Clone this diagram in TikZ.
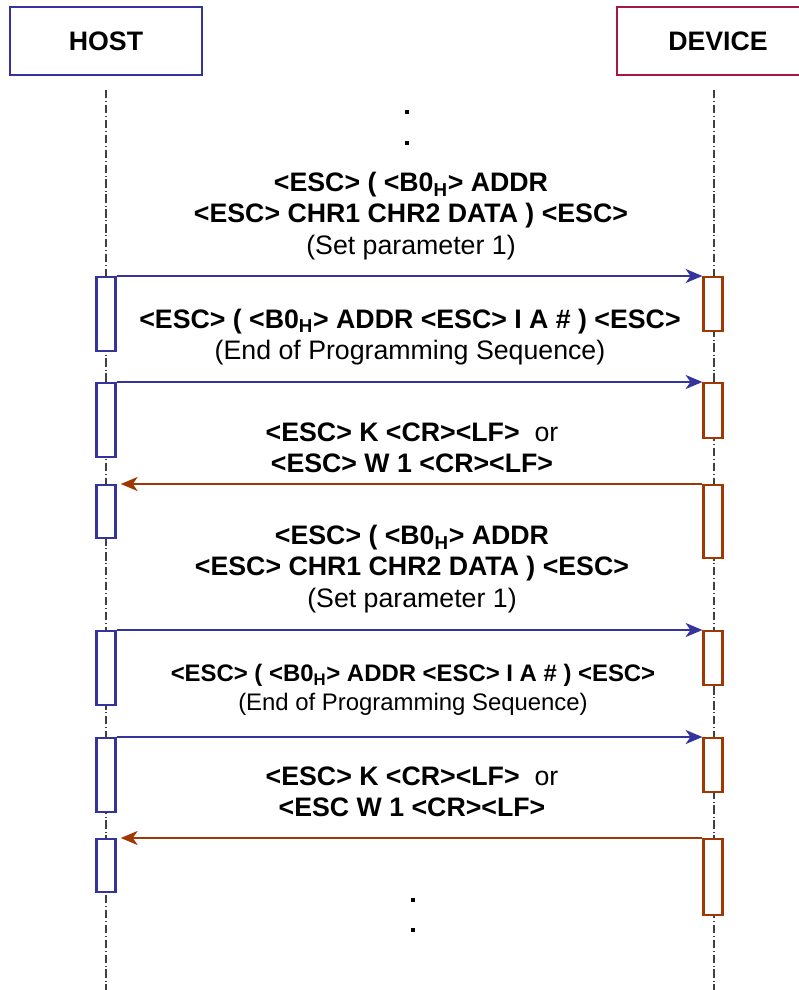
\documentclass[tikz,border=0pt]{standalone}
\usepackage{fontspec}
\setmainfont{Liberation Sans}
\usetikzlibrary{positioning, arrows.meta}

\definecolor{hostblue}{RGB}{52,52,156}
\definecolor{devred}{RGB}{166,22,72}
\definecolor{devbrown}{RGB}{160,56,4}

\tikzset{
  header/.style={draw, line width=1.5pt, fill=white, font=\fontsize{19}{22.5}\selectfont\bfseries, minimum height=1.7cm},
  lifeline/.style={draw=black!75, line width=0.8pt, dash pattern=on 6pt off 2pt on 0.6pt off 2pt},
  actbox/.style={draw, line width=1.5pt, fill=white, anchor=north, minimum width=0.475cm, inner sep=0pt},
  hostact/.style={actbox, draw=hostblue},
  devact/.style={actbox, draw=devbrown},
  msgblue/.style={draw=hostblue, line width=1.5pt, -{Stealth[length=12pt, width=10pt, inset=3.5pt]}},
  msgbrown/.style={draw=devbrown, line width=1.5pt, -{Stealth[length=12pt, width=10pt, inset=3.5pt]}},
  msgtext/.style={align=center, font=\fontsize{19}{22.3}\selectfont},
  msgsmall/.style={align=center, font=\fontsize{17}{20.8}\selectfont}
}

\begin{document}
\begin{tikzpicture}[x=0.025cm, y=-0.025cm]
  \useasboundingbox (0,0) rectangle (799,990);

  % Lifelines
  \coordinate (hosttop) at (106,90);
  \coordinate (hostend) at (106,990);
  \coordinate (devtop) at (714,90);
  \coordinate (devend) at (714,990);
  \draw[lifeline] (hosttop) -- (hostend);
  \draw[lifeline] (devtop) -- (devend);

  % Participants
  \node[header, draw=hostblue, minimum width=4.8cm] (host) at (106,41) {HOST};
  \node[header, draw=devred, minimum width=5.05cm] (device) at (718,41) {DEVICE};

  % Activation boxes
  \foreach \n/\top/\hh/\dh in {1/276/74/54, 2/382/74/55, 3/484/53/73, 4/630/74/54, 5/737/74/54, 6/838/53/76} {
    \node[hostact, minimum height=\hh*0.025cm] (h\n) at (106,\top) {};
    \node[devact, minimum height=\dh*0.025cm] (d\n) at (713,\top) {};
  }

  % Messages
  \foreach \n in {1,2,4,5} {
    \draw[msgblue] (h\n.north east) -- (d\n.north west);
  }
  \foreach \n in {3,6} {
    \draw[msgbrown] (d\n.north west) -- ([xshift=3pt]h\n.north east);
  }

  \node[msgtext] (m1) at (411,216) {\textbf{<ESC> ( <B0\textsubscript{H}> ADDR}\\\textbf{<ESC> CHR1 CHR2 DATA ) <ESC>}\\(Set parameter 1)};
  \node[msgtext] (m2) at (410,337) {\textbf{<ESC> ( <B0\textsubscript{H}> ADDR <ESC> I A \# ) <ESC>}\\(End of Programming Sequence)};
  \node[msgtext] (m3) at (412,448) {\textbf{<ESC> K <CR><LF>}\ \ or\\\textbf{<ESC> W 1 <CR><LF>}};
  \node[msgtext] (m4) at (412,569) {\textbf{<ESC> ( <B0\textsubscript{H}> ADDR}\\\textbf{<ESC> CHR1 CHR2 DATA ) <ESC>}\\(Set parameter 1)};
  \node[msgsmall] (m5) at (413,690) {\textbf{<ESC> ( <B0\textsubscript{H}> ADDR <ESC> I A \# ) <ESC>}\\(End of Programming Sequence)};
  \node[msgtext] (m6) at (412,792) {\textbf{<ESC> K <CR><LF>}\ \ or\\\textbf{<ESC W 1 <CR><LF>}};

  % Continuation dots
  \foreach \x/\y in {407/112, 407/143, 413/900, 413/930} {
    \fill (\x-2,\y-2) rectangle ++(4,4);
  }
\end{tikzpicture}
\end{document}
